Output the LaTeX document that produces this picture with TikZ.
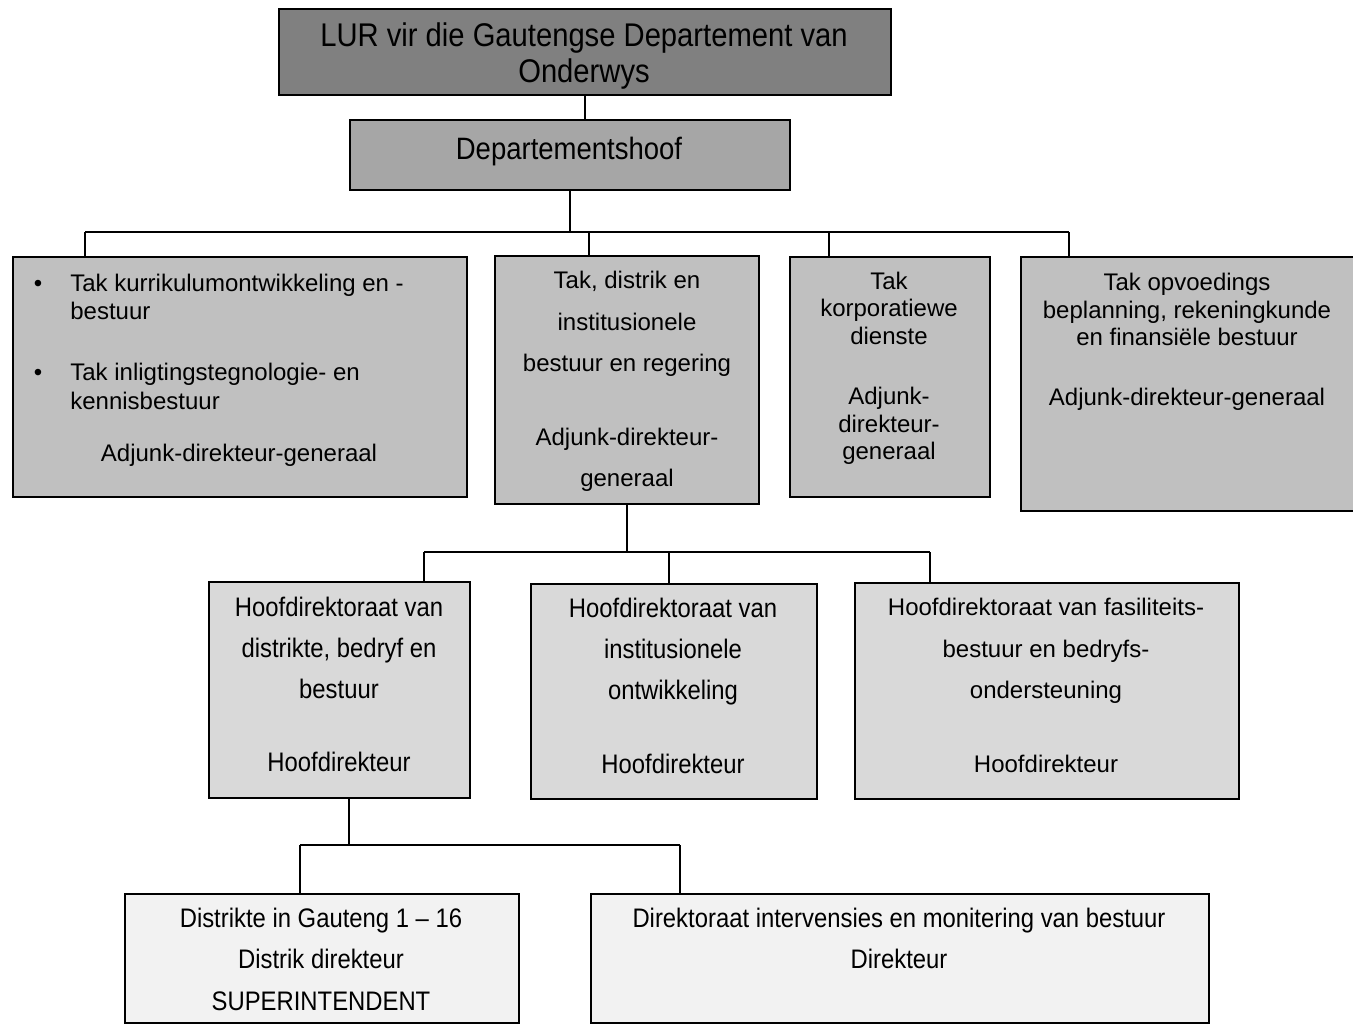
\documentclass[tikz,border=0pt]{standalone}
\usepackage{fontspec}
\setmainfont{Liberation Sans}
\newfontfamily\cnd[FakeStretch=0.89]{Liberation Sans}
\newdimen\px \px=0.02cm
\definecolor{gA}{HTML}{808080}
\definecolor{gB}{HTML}{A6A6A6}
\definecolor{gC}{HTML}{C0C0C0}
\definecolor{gD}{HTML}{D9D9D9}
\definecolor{gE}{HTML}{F2F2F2}
\begin{document}
\begin{tikzpicture}[x=0.02cm,y=-0.02cm,
  box/.style={draw=black, line width=1.1pt, inner sep=0pt, anchor=north west},
  sz/.style 2 args={minimum width=#1*0.02cm, minimum height=#2*0.02cm},
  txt/.style={inner sep=0pt, align=center, font=\fontsize{24\px}{27.6\px}\selectfont},
  ctxt/.style={inner sep=0pt, align=center, font=\cnd\fontsize{26.8\px}{30.8\px}\selectfont},
  link/.style={draw=black, line width=0.85pt}]
\useasboundingbox (0,0) rectangle (1353,1024);

% boxes
\node[box, fill=gA, sz={612}{86}]  (lur)   at (278,8)   {};
\node[box, fill=gB, sz={440}{70}]  (dept)  at (349,119) {};
\node[box, fill=gC, sz={454}{240}] (tak1)  at (12,256)  {};
\node[box, fill=gC, sz={264}{248}] (tak2)  at (494,255) {};
\node[box, fill=gC, sz={200}{240}] (tak3)  at (789,256) {};
\node[box, fill=gC, sz={340}{254}] (tak4)  at (1020,256) {};
\node[box, fill=gD, sz={261}{216}] (hd1)   at (208,581) {};
\node[box, fill=gD, sz={286}{215}] (hd2)   at (530,583) {};
\node[box, fill=gD, sz={384}{216}] (hd3)   at (854,582) {};
\node[box, fill=gE, sz={394}{129}] (dis)   at (124,893) {};
\node[box, fill=gE, sz={618}{129}] (dir)   at (590,893) {};

% texts
\node[inner sep=0pt, align=center, font=\cnd\fontsize{32.8\px}{33\px}\selectfont] (lurT) at (584,57.5)
  {\strut LUR vir die Gautengse Departement van\\Onderwys\strut};
\node[inner sep=0pt, font=\cnd\fontsize{30.9\px}{34\px}\selectfont] (deptT) at (569,153)
  {\strut Departementshoof\strut};

\node[txt, align=left, anchor=west] (tak1L) at (70,345)
  {\strut\llap{•\hspace{28\px}}Tak kurrikulumontwikkeling en -\\[0.4\px]bestuur\\[33.4\px]\llap{•\hspace{28\px}}Tak inligtingstegnologie- en\\[1.4\px]kennisbestuur\strut};
\node[txt] (tak1A) at (239,456) {\strut Adjunk-direkteur-generaal\strut};

\node[txt] (tak2T) at (627,382)
  {\strut Tak, distrik en\\[13.9\px]institusionele\\[13.9\px]bestuur en regering\\[46.4\px]Adjunk-direkteur-\\[13.4\px]generaal\strut};
\node[txt] (tak3T) at (889,369)
  {\strut Tak\\korporatiewe\\dienste\\[32.4\px]Adjunk-\\direkteur-\\generaal\strut};
\node[txt] (tak4T) at (1187,342.5)
  {\strut Tak opvoedings\\beplanning, rekeningkunde\\en finansiële bestuur\\[32.4\px]Adjunk-direkteur-generaal\strut};

\node[ctxt] (hd1T) at (339,687.5)
  {\strut Hoofdirektoraat van\\[10.2\px]distrikte, bedryf en\\[10.2\px]bestuur\\[42.2\px]Hoofdirekteur\strut};
\node[ctxt] (hd2T) at (673,689)
  {\strut Hoofdirektoraat van\\[10.2\px]institusionele\\[10.2\px]ontwikkeling\\[43.2\px]Hoofdirekteur\strut};
\node[txt] (hd3T) at (1046,688.5)
  {\strut Hoofdirektoraat van fasiliteits-\\[13.9\px]bestuur en bedryfs-\\[13.9\px]ondersteuning\\[46.4\px]Hoofdirekteur\strut};

\node[ctxt] (disT) at (321,962.5)
  {\strut Distrikte in Gauteng 1 – 16\\[10.7\px]Distrik direkteur\\[10.7\px]SUPERINTENDENT\strut};
\node[ctxt] (dirT) at (899,942)
  {\strut Direktoraat intervensies en monitering van bestuur\\[10.7\px]Direkteur\strut};

% bus coordinates
\coordinate (b1L) at (85,232);
\coordinate (b1R) at (1069,232);
\coordinate (d12) at (589,232);
\coordinate (d13) at (829,232);
\coordinate (b2L) at (424,552);
\coordinate (b2R) at (930,552);
\coordinate (d22) at (669,552);
\coordinate (d31) at (349,845);
\coordinate (b3L) at (300,845);
\coordinate (b3R) at (680,845);

% connectors
\draw[link] (lur.south) -- (lur.south |- dept.north);
\draw[link] (dept.south) -- (dept.south |- b1L);
\draw[link] (b1L) -- (b1R);
\draw[link] (b1L) -- (b1L |- tak1.north);
\draw[link] (d12) -- (d12 |- tak2.north);
\draw[link] (d13) -- (d13 |- tak3.north);
\draw[link] (b1R) -- (b1R |- tak4.north);

\draw[link] (tak2.south) -- (tak2.south |- b2L);
\draw[link] (b2L) -- (b2R);
\draw[link] (b2L) -- (b2L |- hd1.north);
\draw[link] (d22) -- (d22 |- hd2.north);
\draw[link] (b2R) -- (b2R |- hd3.north);

\draw[link] (d31 |- hd1.south) -- (d31);
\draw[link] (b3L) -- (b3R);
\draw[link] (b3L) -- (b3L |- dis.north);
\draw[link] (b3R) -- (b3R |- dir.north);
\end{tikzpicture}
\end{document}
